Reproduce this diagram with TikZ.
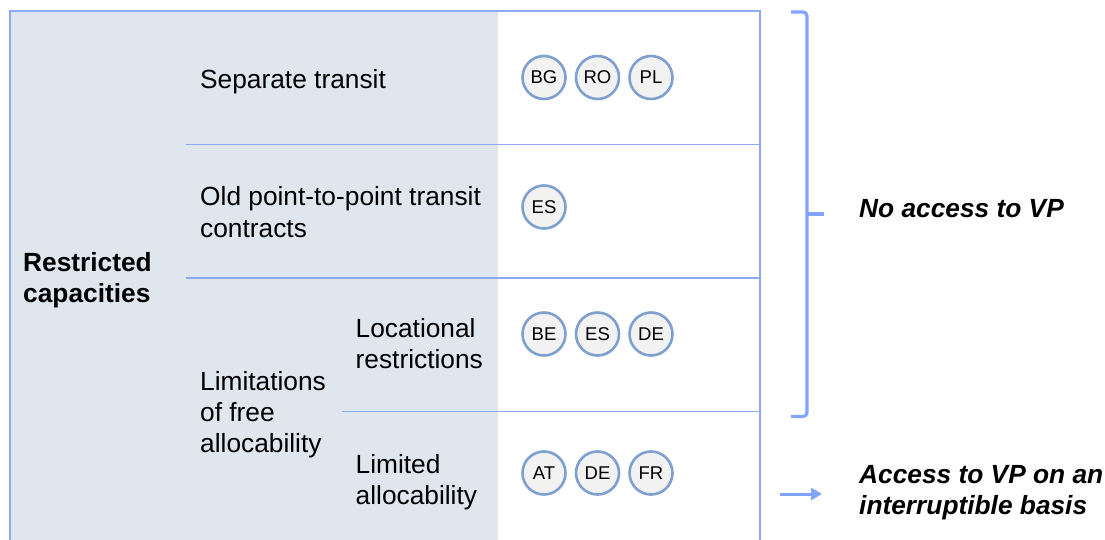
\documentclass[tikz,border=0pt]{standalone}
\usepackage{fontspec}
\setmainfont{Liberation Sans}
\usetikzlibrary{arrows.meta}
\definecolor{panel}{HTML}{DFE6EE}
\definecolor{rule}{HTML}{8EAAF6}
\definecolor{ring}{HTML}{7F9FD0}
\definecolor{chipfill}{HTML}{F2F2F2}
\definecolor{brace}{HTML}{80A4FF}
\tikzset{
  lbl/.style={font=\fontsize{26.3}{31}\selectfont, anchor=base west, inner sep=0pt},
  boldlbl/.style={lbl, font=\fontsize{26.3}{31}\selectfont\bfseries},
  note/.style={lbl, font=\fontsize{26.3}{31}\selectfont\bfseries\itshape},
  chip/.style={circle, draw=ring, line width=2.6pt, fill=chipfill,
    minimum size=43pt, inner sep=0pt, font=\fontsize{18.5}{20}\selectfont},
  gridline/.style={draw=rule, line width=1.6pt},
  bracket/.style={draw=brace, line width=3.2pt, rounded corners=4pt}
}
\begin{document}
\begin{tikzpicture}[x=1pt,y=-1pt]
\useasboundingbox (0,0) rectangle (1105,540);

% shaded label column
\fill[panel] (10,11) rectangle (497.5,540);

% table rules
\draw[gridline] (10,540) -- (10,11) -- (760,11) -- (760,540);
\draw[gridline] (186,144.5) -- (760,144.5);
\draw[gridline] (186,278) -- (760,278);
\draw[gridline] (342,411.5) -- (760,411.5);

% row labels
\node[boldlbl] (rc1) at (23,271) {Restricted};
\node[boldlbl] (rc2) at (23,302) {capacities};
\node[lbl] (st) at (200,89) {Separate transit};
\node[lbl] (op1) at (200,206) {Old point-to-point transit};
\node[lbl] (op2) at (200,237) {contracts};
\node[lbl] (lf1) at (200,390.5) {Limitations};
\node[lbl] (lf2) at (200,421.5) {of free};
\node[lbl] (lf3) at (200,452.5) {allocability};
\node[lbl] (lr1) at (355.5,337) {Locational};
\node[lbl] (lr2) at (355.5,368) {restrictions};
\node[lbl] (la1) at (355.5,473) {Limited};
\node[lbl] (la2) at (355.5,504) {allocability};

% country chips
\node[chip] (bg) at (544,77.5) {BG};
\node[chip] (ro) at (597.5,77.5) {RO};
\node[chip] (pl) at (651,77.5) {PL};
\node[chip] (es1) at (544,207) {ES};
\node[chip] (be) at (544,334) {BE};
\node[chip] (es2) at (597.5,334) {ES};
\node[chip] (de1) at (651,334) {DE};
\node[chip] (at) at (544,473) {AT};
\node[chip] (de2) at (597.5,473) {DE};
\node[chip] (fr) at (651,473) {FR};

% outcome notes
\node[note] (noacc) at (859,218) {No access to VP};
\node[note] (acc1) at (859,483) {Access to VP on an};
\node[note] (acc2) at (859,514.5) {interruptible basis};

% right brace over the first three rows
\coordinate (btop) at (791,12);
\coordinate (bbot) at (791,416.5);
\coordinate (btip) at (823.5,214);
\draw[bracket] (btop) -- (807,12) -- (807,416.5) -- (bbot);
\draw[draw=brace, line width=3.2pt] (807,214) -- (btip);

% arrow for the last row
\coordinate (arrfrom) at (780,494);
\draw[draw=brace, line width=3pt, -{Triangle[length=11pt,width=12pt]}] (arrfrom) -- (822,494);
\end{tikzpicture}
\end{document}
